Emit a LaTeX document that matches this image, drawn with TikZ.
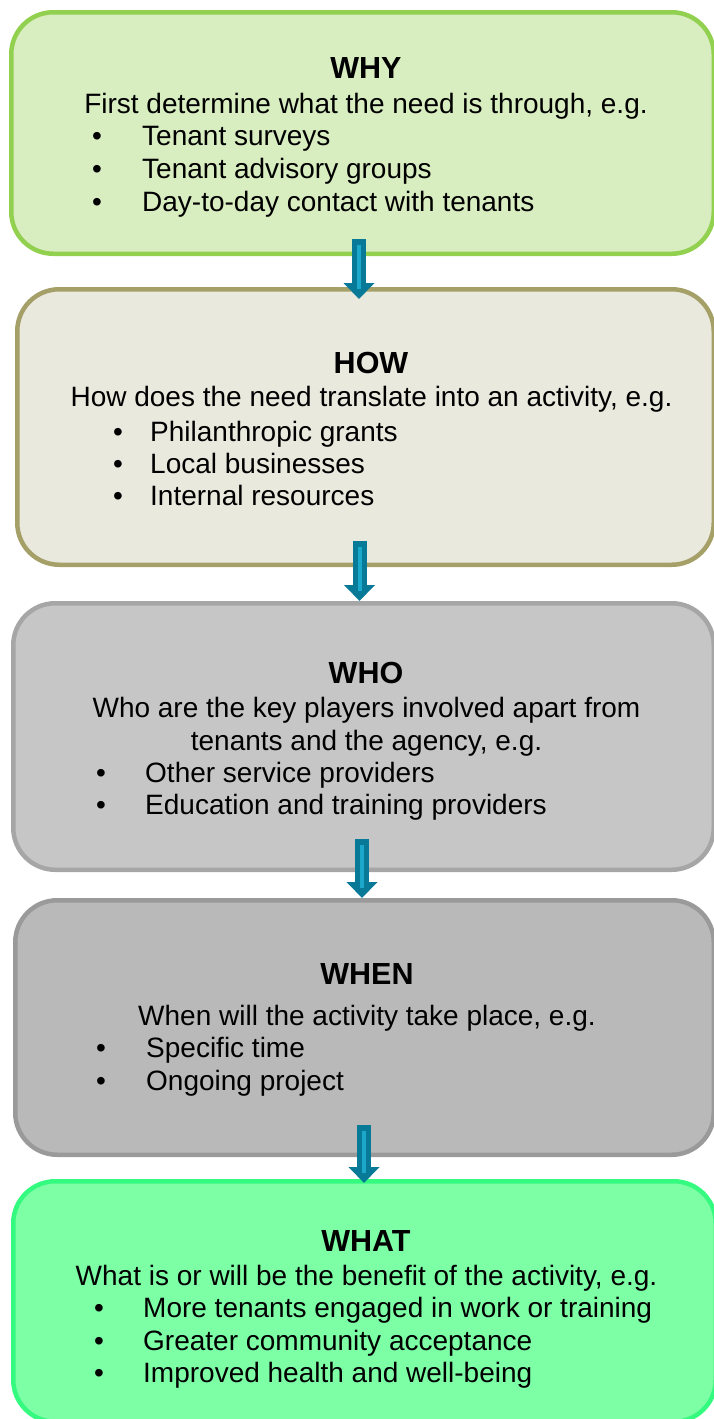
\documentclass[tikz,border=0pt]{standalone}
\usepackage{fontspec}
\setmainfont{Liberation Sans}
\usetikzlibrary{arrows.meta}

\definecolor{whyfill}{RGB}{216,237,192}
\definecolor{whyline}{RGB}{146,208,80}
\definecolor{howfill}{RGB}{234,233,222}
\definecolor{howline}{RGB}{164,160,104}
\definecolor{whofill}{RGB}{198,198,198}
\definecolor{wholine}{RGB}{166,166,166}
\definecolor{whenfill}{RGB}{185,185,185}
\definecolor{whenline}{RGB}{154,154,154}
\definecolor{whatfill}{RGB}{125,255,166}
\definecolor{whatline}{RGB}{52,250,128}
\definecolor{arrowdark}{RGB}{8,122,152}
\definecolor{arrowlight}{RGB}{28,168,202}

\tikzset{
  stage/.style={draw, rounded corners=42pt, line width=4.5pt, inner sep=0pt, outer sep=0pt},
  title/.style={inner sep=0pt, anchor=base, font=\fontsize{30.5}{33}\selectfont\bfseries},
  lead/.style={inner sep=0pt, anchor=base, font=\fontsize{28}{33}\selectfont},
  dot/.style={inner sep=0pt, anchor=base, font=\fontsize{28}{33}\selectfont},
  item/.style={inner sep=0pt, anchor=base west, font=\fontsize{28}{33}\selectfont},
  flow/.style={arrowdark, line width=14pt, -{Triangle[width=30pt,length=16pt]}},
  stripe/.style={arrowlight, line width=4pt, shorten <=6pt, shorten >=10pt},
}

% bullet line: name, bullet x, text x, baseline depth, text
\newcommand\bitem[5]{%
  \node[dot] (#1d) at (#2,-#4) {•};
  \node[item] (#1) at (#3,-#4) {#5};}

\begin{document}
\begin{tikzpicture}[x=1pt,y=1pt]
\useasboundingbox (0,0) rectangle (714,-1419);

% stage boxes
\node[stage, fill=whyfill, draw=whyline, minimum width=702.5pt, minimum height=241.5pt] (why) at (362.5,-133) {};
\node[stage, fill=howfill, draw=howline, minimum width=696.5pt, minimum height=275.5pt] (how) at (365.5,-427) {};
\node[stage, fill=whofill, draw=wholine, minimum width=700.5pt, minimum height=266.5pt] (who) at (363.5,-736.5) {};
\node[stage, fill=whenfill, draw=whenline, minimum width=698.5pt, minimum height=254.5pt] (when) at (364.5,-1027.5) {};
\node[stage, fill=whatfill, draw=whatline, minimum width=702.5pt, minimum height=240.5pt] (what) at (364.5,-1301.5) {};

% WHY
\node[title] (whyt) at (366,-78) {WHY};
\node[lead] (whyl) at (366,-113) {First determine what the need is through, e.g.};
\bitem{whya}{97}{142}{145}{Tenant surveys}
\bitem{whyb}{97}{142}{178}{Tenant advisory groups}
\bitem{whyc}{97}{142}{211}{Day-to-day contact with tenants}

% HOW
\node[title] (howt) at (371,-373) {HOW};
\node[lead] (howl) at (371.5,-406) {How does the need translate into an activity, e.g.};
\bitem{howa}{118}{150}{441}{Philanthropic grants}
\bitem{howb}{118}{150}{473}{Local businesses}
\bitem{howc}{118}{150}{505}{Internal resources}

% WHO
\node[title] (whot) at (366,-683) {WHO};
\node[lead] (whol) at (366.5,-717) {Who are the key players involved apart from};
\node[lead] (whom) at (366.5,-750) {tenants and the agency, e.g.};
\bitem{whoa}{101}{145}{782}{Other service providers}
\bitem{whob}{101}{145}{814}{Education and training providers}

% WHEN
\node[title] (whent) at (367,-984) {WHEN};
\node[lead] (whenl) at (367,-1025) {When will the activity take place, e.g.};
\bitem{whena}{101}{146}{1057}{Specific time}
\bitem{whenb}{101}{146}{1090}{Ongoing project}

% WHAT
\node[title] (whatt) at (366,-1251) {WHAT};
\node[lead] (whatl) at (366.5,-1285) {What is or will be the benefit of the activity, e.g.};
\bitem{whata}{99}{143}{1317}{More tenants engaged in work or training}
\bitem{whatb}{99}{143}{1350}{Greater community acceptance}
\bitem{whatc}{99}{143}{1382}{Improved health and well-being}

% connecting block arrows
\foreach \a/\b/\dx/\up/\dn in {why/how/-3.5/14.75/-9.75, how/who/-6/23.75/2.25, who/when/-1.5/30.75/2.25, when/what/-0.5/29.75/-1.75}{
  \draw[flow] ([shift={(\dx pt,\up pt)}]\a.south) -- ([shift={(\dx pt,\dn pt)}]\a.south |- \b.north);
  \draw[stripe] ([shift={(\dx pt,\up pt)}]\a.south) -- ([shift={(\dx pt,\dn pt)}]\a.south |- \b.north);
}
\end{tikzpicture}
\end{document}
